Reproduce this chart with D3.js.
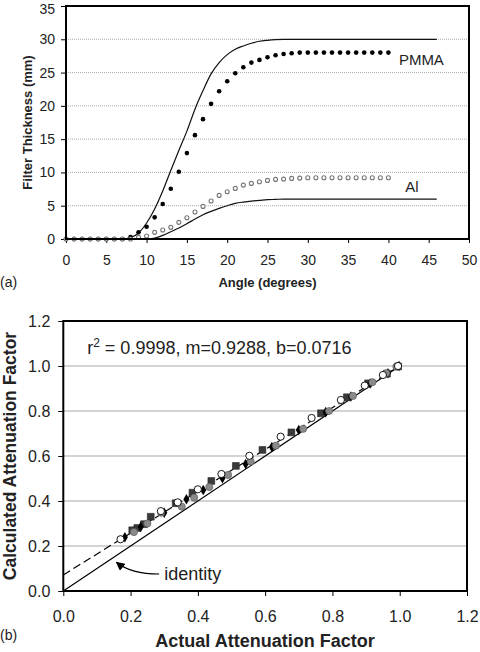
<!DOCTYPE html>
<html><head><meta charset="utf-8">
<script src="https://cdn.jsdelivr.net/npm/d3@7"></script>
<style>body{margin:0;background:#fff}svg{display:block;font-family:"Liberation Sans",Arial,sans-serif}</style>
</head><body><svg id="c" width="480" height="652"></svg>
<script>
// ---- Top chart data (a) ----
const lineAngles = d3.range(0, 47);
const pmmaLine = [0,0,0,0,0,0,0,0,0.2,0.9,2.4,4.5,7.2,10.3,13.3,16.2,19.5,22.3,24.8,26.5,27.7,28.5,29.0,29.4,29.7,29.85,29.95,30,30,30,30,30,30,30,30,30,30,30,30,30,30,30,30,30,30,30,30];
const alLine = [0,0,0,0,0,0,0,0,0,0,0,0.15,0.55,1.1,1.65,2.3,3.0,3.65,4.15,4.6,5.0,5.35,5.55,5.7,5.8,5.9,5.95,6,6,6,6,6,6,6,6,6,6,6,6,6,6,6,6,6,6,6,6];
const dotAngles = d3.range(0, 41);
const pmmaDots = [0,0,0,0,0,0,0,0,0.3,1.0,1.85,3.25,5.25,7.55,10.1,12.9,15.6,18.0,20.3,22.2,23.7,24.9,25.8,26.5,26.9,27.3,27.6,27.8,27.9,28,28,28,28,28,28,28,28,28,28,28,28];
const alDots = [0,0,0,0,0,0,0,0,0,0.25,0.45,1.0,1.35,1.75,2.5,3.2,4.05,4.9,5.7,6.55,7.1,7.6,8.1,8.35,8.6,8.8,8.95,9.0,9.1,9.15,9.2,9.2,9.2,9.2,9.2,9.2,9.2,9.2,9.2,9.2,9.2];
const topXTicks = [0,5,10,15,20,25,30,35,40,45,50];
const topYTicks = [0,5,10,15,20,25,30,35];

// ---- Bottom chart data (b) ----
const openCircles = [[0.17,0.23],[0.29,0.355],[0.34,0.394],[0.40,0.452],[0.47,0.52],[0.553,0.601],[0.646,0.686],[0.738,0.769],[0.825,0.849],[0.896,0.913],[0.95,0.96],[0.995,1.0]];
const squares = [[0.205,0.27],[0.22,0.28],[0.24,0.297],[0.26,0.33],[0.334,0.39],[0.384,0.437],[0.44,0.489],[0.513,0.556],[0.592,0.627],[0.678,0.705],[0.766,0.79],[0.843,0.861],[0.906,0.923],[0.962,0.966],[0.995,0.998]];
const diamonds = [[0.183,0.239],[0.23,0.285],[0.30,0.348],[0.366,0.408],[0.416,0.449],[0.473,0.501],[0.542,0.564],[0.62,0.64],[0.70,0.716],[0.78,0.795],[0.855,0.864],[0.912,0.922],[0.965,0.968],[0.998,1.0]];
const grayCircles = [[0.21,0.262],[0.25,0.3],[0.291,0.348],[0.352,0.375],[0.389,0.415],[0.434,0.462],[0.49,0.516],[0.557,0.576],[0.632,0.646],[0.713,0.721],[0.79,0.80],[0.861,0.867],[0.919,0.928],[0.96,0.968],[0.99,0.997]];
const fitM = 0.9288, fitB = 0.0716;
const botTicks = [0,0.2,0.4,0.6,0.8,1.0,1.2];

const svg = d3.select("#c");

// ================= TOP =================
const xa = d3.scaleLinear().domain([0,50]).range([66,469]);
const ya = d3.scaleLinear().domain([0,35]).range([239,6]);
const gA = svg.append("g");
gA.append("g").selectAll("line").data(topYTicks.filter(d=>d>0&&d<35)).join("line")
  .attr("x1",xa(0)).attr("x2",xa(50)).attr("y1",d=>ya(d)).attr("y2",d=>ya(d))
  .attr("stroke","#aaa").attr("stroke-width",1).attr("stroke-dasharray","1,1");
const axA = gA.append("g").attr("transform",`translate(0,${ya(0)})`)
  .call(d3.axisBottom(xa).tickValues(topXTicks).tickSize(4).tickPadding(12).tickFormat(d3.format("d")));
const ayA = gA.append("g").attr("transform",`translate(${xa(0)},0)`)
  .call(d3.axisLeft(ya).tickValues(topYTicks).tickSize(5).tickPadding(6).tickFormat(d3.format("d")));
[axA,ayA].forEach(a=>{a.select(".domain").remove();a.selectAll("text").attr("font-size",14).attr("fill","#222").attr("font-family","Liberation Sans, Arial");a.selectAll("line").attr("stroke","#000");});
ayA.selectAll(".tick").filter(d=>d===35).select("text").attr("dy","0.5em");
const lineA = d3.line().x((d,i)=>xa(lineAngles[i])).y(d=>ya(d)).curve(d3.curveMonotoneX);
gA.append("path").attr("d",lineA(pmmaLine)).attr("fill","none").attr("stroke","#111").attr("stroke-width",1.2);
gA.append("path").attr("d",lineA(alLine)).attr("fill","none").attr("stroke","#111").attr("stroke-width",1.2);
gA.append("g").selectAll("circle").data(pmmaDots).join("circle")
  .attr("cx",(d,i)=>xa(dotAngles[i])).attr("cy",d=>ya(d)).attr("r",2.3).attr("fill","#000");
gA.append("g").selectAll("circle").data(alDots).join("circle")
  .attr("cx",(d,i)=>xa(dotAngles[i])).attr("cy",d=>ya(d)).attr("r",2).attr("fill","#fff").attr("stroke","#777").attr("stroke-width",1.1);
gA.append("rect").attr("x",xa(0)).attr("y",ya(35)).attr("width",xa(50)-xa(0)).attr("height",ya(0)-ya(35))
  .attr("fill","none").attr("stroke","#000").attr("stroke-width",2);
gA.append("text").attr("x",xa(41.3)).attr("y",ya(26.2)).attr("font-size",15).attr("fill","#222").text("PMMA");
gA.append("text").attr("x",xa(42.1)).attr("y",ya(7.1)).attr("font-size",15).attr("fill","#222").text("Al");
gA.append("text").attr("transform",`translate(32,${(ya(0)+ya(35))/2}) rotate(-90)`).attr("text-anchor","middle")
  .attr("font-size",13).attr("font-weight","bold").attr("fill","#222").text("Filter Thickness (mm)");
gA.append("text").attr("x",267.5).attr("y",287).attr("text-anchor","middle")
  .attr("font-size",13).attr("font-weight","bold").attr("fill","#222").text("Angle (degrees)");
gA.append("text").attr("x",0).attr("y",287).attr("font-size",14).attr("fill","#222").text("(a)");

// ================= BOTTOM =================
const xb = d3.scaleLinear().domain([0,1.2]).range([63.3,467]);
const yb = d3.scaleLinear().domain([0,1.2]).range([591,321]);
const gB = svg.append("g");
gB.append("g").selectAll("line").data(botTicks.filter(d=>d>0&&d<1.2)).join("line")
  .attr("x1",xb(0)).attr("x2",xb(1.2)).attr("y1",d=>yb(d)).attr("y2",d=>yb(d))
  .attr("stroke","#c4c4c4").attr("stroke-width",1.5);
const axB = gB.append("g").attr("transform",`translate(0,${yb(0)})`)
  .call(d3.axisBottom(xb).tickValues(botTicks).tickSize(5).tickPadding(15).tickFormat(d3.format(".1f")));
const ayB = gB.append("g").attr("transform",`translate(${xb(0)},0)`)
  .call(d3.axisLeft(yb).tickValues(botTicks).tickSize(5).tickPadding(8).tickFormat(d3.format(".1f")));
[axB,ayB].forEach(a=>{a.select(".domain").remove();a.selectAll("text").attr("font-size",16).attr("fill","#222").attr("font-family","Liberation Sans, Arial");a.selectAll("line").attr("stroke","#000");});
// identity & fit lines
gB.append("line").attr("x1",xb(0)).attr("y1",yb(0)).attr("x2",xb(1)).attr("y2",yb(1)).attr("stroke","#000").attr("stroke-width",1.2);
gB.append("line").attr("x1",xb(0)).attr("y1",yb(fitB)).attr("x2",xb(1)).attr("y2",yb(fitM+fitB)).attr("stroke","#000").attr("stroke-width",1.2).attr("stroke-dasharray","8,4");
// markers
gB.append("g").selectAll("path").data(squares).join("path")
  .attr("transform",d=>`translate(${xb(d[0])},${yb(d[1])})`).attr("d",d3.symbol(d3.symbolSquare,46)())
  .attr("fill","#3a3a3a").attr("stroke","#222").attr("stroke-width",0.6);
gB.append("g").selectAll("path").data(diamonds).join("path")
  .attr("transform",d=>`translate(${xb(d[0])},${yb(d[1])})`).attr("d",d3.symbol(d3.symbolDiamond,32)())
  .attr("fill","#000");
gB.append("g").selectAll("circle").data(grayCircles).join("circle")
  .attr("cx",d=>xb(d[0])).attr("cy",d=>yb(d[1])).attr("r",3.6).attr("fill","#8a8a8a").attr("stroke","#555").attr("stroke-width",0.6);
gB.append("g").selectAll("circle").data(openCircles).join("circle")
  .attr("cx",d=>xb(d[0])).attr("cy",d=>yb(d[1])).attr("r",3.6).attr("fill","#fff").attr("stroke","#000").attr("stroke-width",0.9);
gB.append("rect").attr("x",xb(0)).attr("y",yb(1.2)).attr("width",xb(1.2)-xb(0)).attr("height",yb(0)-yb(1.2))
  .attr("fill","none").attr("stroke","#000").attr("stroke-width",2);
// annotation text
const rt = gB.append("text").attr("x",xb(0.071)).attr("y",yb(1.053)).attr("font-size",18).attr("fill","#222");
rt.append("tspan").text("r");
rt.append("tspan").attr("font-size",12).attr("dy",-7).text("2");
rt.append("tspan").attr("dy",7).text(" = 0.9998, m=0.9288, b=0.0716");
// identity arrow
svg.append("defs").append("marker").attr("id","ah").attr("viewBox","0 0 10 10").attr("refX",9).attr("refY",5)
  .attr("markerWidth",9).attr("markerHeight",9).attr("markerUnits","userSpaceOnUse").attr("orient","auto")
  .append("path").attr("d","M0,0L10,5L0,10Z").attr("fill","#000");
const ap = d3.path();
ap.moveTo(xb(0.285), yb(0.0756));
ap.bezierCurveTo(xb(0.22), yb(0.0756), xb(0.185), yb(0.095), xb(0.158), yb(0.128));
gB.append("path").attr("d",ap.toString()).attr("fill","none").attr("stroke","#000").attr("stroke-width",1.2).attr("marker-end","url(#ah)");
gB.append("text").attr("x",xb(0.3)).attr("y",yb(0.0756)+6).attr("font-size",18).attr("fill","#222").text("identity");
gB.append("text").attr("transform",`translate(16,${(yb(0)+yb(1.2))/2}) rotate(-90)`).attr("text-anchor","middle")
  .attr("font-size",17.5).attr("font-weight","bold").attr("fill","#222").text("Calculated Attenuation Factor");
gB.append("text").attr("x",265).attr("y",647).attr("text-anchor","middle")
  .attr("font-size",18).attr("font-weight","bold").attr("fill","#222").text("Actual Attenuation Factor");
gB.append("text").attr("x",0).attr("y",640).attr("font-size",14).attr("fill","#222").text("(b)");
</script></body></html>
